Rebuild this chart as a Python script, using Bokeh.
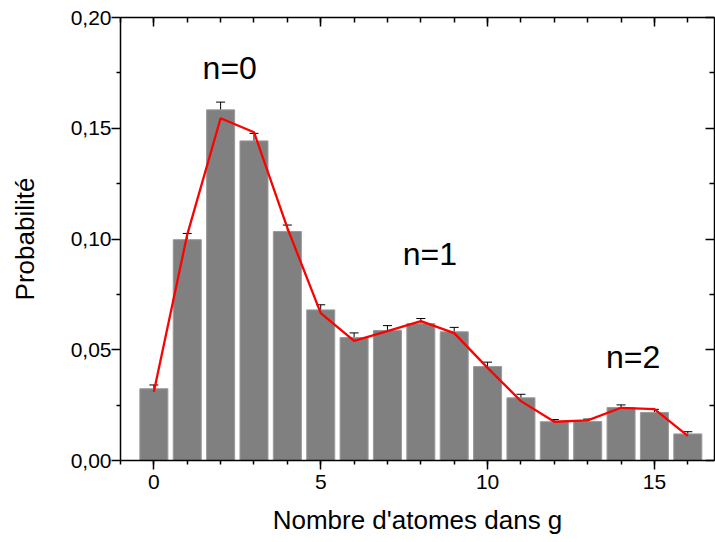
from bokeh.plotting import figure
from bokeh.models import (ColumnDataSource, Range1d, FixedTicker, LinearAxis,
                          Whisker, TeeHead, CustomJSTickFormatter,
                          CustomLabelingPolicy)
from bokeh.core.properties import value
from bokeh.embed import file_html
from bokeh.resources import INLINE

# ---- data ----
atoms = list(range(17))
prob = [0.0324, 0.0997, 0.1583, 0.1443, 0.1034, 0.0680, 0.0555, 0.0587,
        0.0618, 0.0581, 0.0424, 0.0283, 0.0175, 0.0176, 0.0239, 0.0217, 0.0120]
err = [0.0017, 0.0028, 0.0035, 0.0034, 0.0029, 0.0023, 0.0021, 0.0022,
       0.0023, 0.0020, 0.0020, 0.0016, 0.0010, 0.0011, 0.0012, 0.0014, 0.0010]
fit = [0.0310, 0.1020, 0.1545, 0.1482, 0.1050, 0.0665, 0.0540, 0.0584,
       0.0629, 0.0575, 0.0418, 0.0268, 0.0175, 0.0181, 0.0238, 0.0232, 0.0111]
label_text = ["n=0", "n=1", "n=2"]
label_x = [1.46, 7.46, 13.55]
label_y = [0.1774, 0.0932, 0.0469]
x_major = [0, 5, 10, 15]
x_minor = list(range(-1, 17))
y_major = [0.0, 0.05, 0.10, 0.15, 0.20]
y_minor = [0.025, 0.075, 0.125, 0.175]

FONT = "Liberation Sans"

upper = [p + e for p, e in zip(prob, err)]
lower = [p - e for p, e in zip(prob, err)]
src = ColumnDataSource(dict(x=atoms, prob=prob, fit=fit, upper=upper, lower=lower))

p = figure(width=715, height=542, output_backend="svg", toolbar_location=None,
           x_range=Range1d(-1, 16.8), y_range=Range1d(0, 0.2),
           min_border_left=120, min_border_top=17, min_border_right=1,
           min_border_bottom=82)
p.xgrid.visible = False
p.ygrid.visible = False
p.outline_line_color = None

p.vbar(x="x", top="prob", width=0.84, source=src, fill_color="#808080",
       line_color="#9a9a9a", line_width=1)

w = Whisker(base="x", upper="upper", lower="lower", source=src,
            line_color="black", line_width=1,
            upper_head=TeeHead(size=9, line_color="black", line_width=1),
            lower_head=TeeHead(size=9, line_color="black", line_width=1))
p.add_layout(w)

p.line(x="x", y="fit", source=src, line_color="red", line_width=2.3)

p.text(x=label_x, y=label_y, text=label_text, text_font=value(FONT),
       text_font_size="32px", text_color="black", text_align="left",
       text_baseline="alphabetic")

xt = FixedTicker(ticks=x_major, minor_ticks=x_minor)
yt = FixedTicker(ticks=y_major, minor_ticks=y_minor)
fmt = CustomJSTickFormatter(code="return tick.toFixed(2).replace('.', ',')")
blank = CustomJSTickFormatter(code="return ''")
no_labels = CustomLabelingPolicy(
    code="for (const i of Array.from(indices)) { indices.unset(i) }; return indices")


def style(ax):
    ax.axis_line_width = 1.5
    ax.major_tick_line_width = 1.5
    ax.minor_tick_line_width = 1.5
    ax.axis_line_color = "black"
    ax.major_tick_line_color = "black"
    ax.minor_tick_line_color = "black"
    ax.major_label_text_color = "black"
    ax.axis_label_text_color = "black"


xa = p.xaxis[0]
xa.ticker = xt
xa.major_tick_out = 9
xa.major_tick_in = 0
xa.minor_tick_out = 4
xa.minor_tick_in = 0
xa.major_label_text_font = FONT
xa.major_label_text_font_size = "21px"
xa.major_label_standoff = 5
xa.axis_label = "Nombre d'atomes dans g"
xa.axis_label_text_font = FONT
xa.axis_label_text_font_size = "26px"
xa.axis_label_text_font_style = "normal"
xa.axis_label_standoff = 13
style(xa)

ya = p.yaxis[0]
ya.ticker = yt
ya.formatter = fmt
ya.major_tick_out = 9
ya.major_tick_in = 0
ya.minor_tick_out = 4
ya.minor_tick_in = 0
ya.major_label_text_font = FONT
ya.major_label_text_font_size = "21px"
ya.major_label_standoff = 0
ya.axis_label = "Probabilité"
ya.axis_label_text_font = FONT
ya.axis_label_text_font_size = "26px"
ya.axis_label_text_font_style = "normal"
ya.axis_label_standoff = 28
style(ya)

top = LinearAxis(ticker=xt, formatter=blank, major_tick_in=9, major_tick_out=0,
                 minor_tick_in=5, minor_tick_out=0,
                 major_label_policy=no_labels, major_label_standoff=0,
                 major_label_text_font_size="1px", axis_label_standoff=0)
style(top)
p.add_layout(top, "above")

right = LinearAxis(ticker=yt, formatter=blank, major_tick_in=9, major_tick_out=0,
                   minor_tick_in=5, minor_tick_out=0,
                   major_label_policy=no_labels, major_label_standoff=0,
                   major_label_text_font_size="1px", axis_label_standoff=0)
style(right)
p.add_layout(right, "right")

open("out.html", "w").write(file_html(p, INLINE))
